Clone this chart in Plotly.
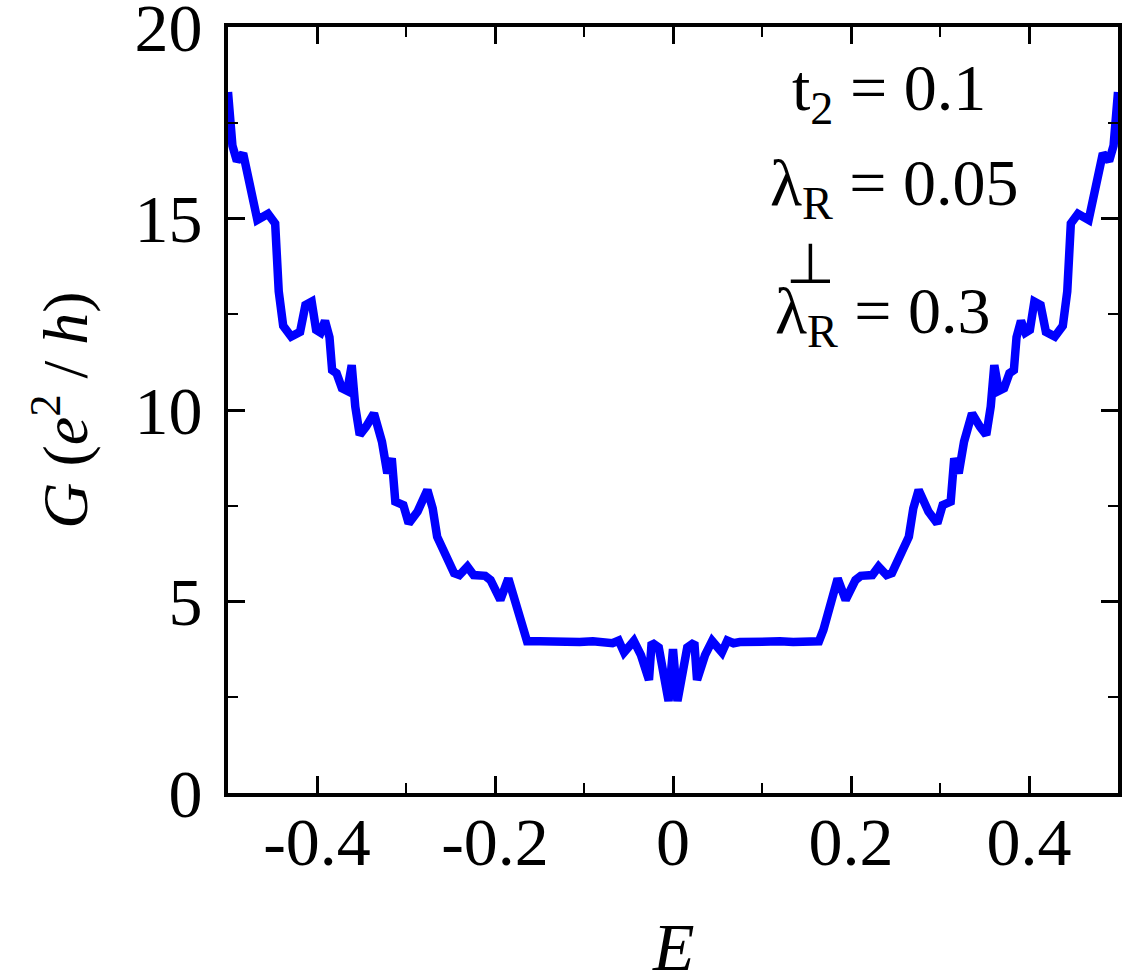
import plotly.graph_objects as go

# Energy values (left half, then right half) and conductance
E_vals = [
    -0.500, -0.495, -0.490, -0.483, -0.467, -0.455, -0.447, -0.443, -0.438, -0.429,
    -0.419, -0.413, -0.406, -0.401, -0.396, -0.391, -0.386, -0.383, -0.378, -0.372,
    -0.366, -0.361, -0.357, -0.352, -0.345, -0.336, -0.327, -0.321, -0.316, -0.312,
    -0.303, -0.297, -0.287, -0.276, -0.270, -0.265, -0.259, -0.254, -0.246, -0.240,
    -0.231, -0.224, -0.211, -0.205, -0.194, -0.185, -0.175, -0.169, -0.164, -0.150,
    -0.135, -0.120, -0.105, -0.090, -0.075, -0.068, -0.061, -0.055, -0.044, -0.036,
    -0.027, -0.024, -0.016, -0.005, 0.000,
    0.005, 0.016, 0.024, 0.027, 0.036, 0.044, 0.055, 0.061, 0.068, 0.075,
    0.090, 0.105, 0.120, 0.135, 0.150, 0.164, 0.169, 0.175, 0.185, 0.194,
    0.205, 0.211, 0.224, 0.231, 0.240, 0.246, 0.254, 0.259, 0.265, 0.270,
    0.276, 0.287, 0.297, 0.303, 0.312, 0.316, 0.321, 0.327, 0.336, 0.345,
    0.352, 0.357, 0.361, 0.366, 0.372, 0.378, 0.383, 0.386, 0.391, 0.396,
    0.401, 0.406, 0.413, 0.419, 0.429, 0.438, 0.443, 0.447, 0.455, 0.467,
    0.483, 0.490, 0.495, 0.500,
]
G_vals = [
    18.30, 16.90, 16.50, 16.70, 14.96, 15.12, 14.87, 13.10, 12.20, 11.92,
    12.04, 12.74, 12.83, 12.09, 12.02, 12.33, 11.90, 11.04, 10.96, 10.57,
    10.50, 11.17, 10.09, 9.35, 9.56, 9.91, 9.17, 8.35, 8.74, 7.61,
    7.52, 7.04, 7.35, 7.91, 7.43, 6.69, 6.39, 6.17, 5.74, 5.69,
    5.91, 5.69, 5.67, 5.56, 5.04, 5.60, 4.82, 4.26, 3.96, 3.96,
    3.94, 3.96, 3.94, 3.96, 3.94, 3.91, 3.98, 3.67, 3.97, 3.60,
    2.95, 3.93, 3.80, 2.40, 3.76,
    2.40, 3.80, 3.93, 2.95, 3.60, 3.97, 3.67, 3.98, 3.91, 3.94,
    3.96, 3.94, 3.96, 3.94, 3.96, 3.96, 4.26, 4.82, 5.60, 5.04,
    5.56, 5.67, 5.69, 5.91, 5.69, 5.74, 6.17, 6.39, 6.69, 7.43,
    7.91, 7.35, 7.04, 7.52, 7.61, 8.74, 8.35, 9.17, 9.91, 9.56,
    9.35, 10.09, 11.17, 10.50, 10.57, 10.96, 11.04, 11.90, 12.33, 12.02,
    12.09, 12.83, 12.74, 12.04, 11.92, 12.20, 13.10, 14.87, 15.12, 14.96,
    16.70, 16.50, 16.90, 18.30,
]

x_major = [-0.4, -0.2, 0.0, 0.2, 0.4]
x_major_text = ["-0.4", "-0.2", "0", "0.2", "0.4"]
x_minor = [-0.3, -0.1, 0.1, 0.3]
y_major = [0, 5, 10, 15, 20]
y_major_text = ["0", "5", "10", "15", "20"]
y_minor = [2.5, 7.5, 12.5, 17.5]

FONT = "Times New Roman"

fig = go.Figure()
fig.add_trace(go.Scatter(x=E_vals, y=G_vals, mode="lines",
                         line=dict(color="#0000ff", width=8.5),
                         showlegend=False, hoverinfo="skip"))

fig.update_layout(
    width=1128, height=973,
    margin=dict(l=228, r=10, t=27, b=180, autoexpand=False),
    paper_bgcolor="white", plot_bgcolor="white",
    font=dict(family=FONT, size=68, color="black"),
    showlegend=False,
)
fig.update_xaxes(
    range=[-0.5, 0.5], showgrid=False, zeroline=False, automargin=False,
    showline=True, linecolor="black", linewidth=4, mirror="ticks",
    ticks="inside", ticklen=17, tickwidth=3, tickcolor="black",
    tickvals=x_major, ticktext=x_major_text, ticklabelstandoff=-14,
    ticklabeloverflow="allow",
    tickfont=dict(family=FONT, size=68, color="black"),
    minor=dict(tickvals=x_minor, ticks="inside", ticklen=10, tickwidth=2, tickcolor="black"),
)
fig.update_yaxes(
    range=[0, 20.0001], showgrid=False, zeroline=False, automargin=False,
    showline=True, linecolor="black", linewidth=4, mirror="ticks",
    ticks="inside", ticklen=17, tickwidth=3, tickcolor="black",
    tickvals=y_major, ticktext=y_major_text, ticklabelstandoff=8,
    ticklabeloverflow="allow",
    tickfont=dict(family=FONT, size=68, color="black"),
    minor=dict(tickvals=y_minor, ticks="inside", ticklen=10, tickwidth=2, tickcolor="black"),
)

ann_font = dict(family=FONT, size=66, color="black")
fig.add_annotation(xref="paper", yref="paper", x=0.5, y=-0.201, xanchor="center", yanchor="middle",
                   text="<i>E</i>", showarrow=False, font=dict(family=FONT, size=68, color="black"))
fig.add_annotation(xref="paper", yref="paper", x=-0.189, y=0.5, xanchor="center", yanchor="middle",
                   text="<i>G</i> (<i>e</i><sup>2</sup> / <i>h</i>)", textangle=-90, showarrow=False,
                   font=dict(family=FONT, size=64, color="black"))
fig.add_annotation(xref="paper", yref="paper", x=0.631, y=0.915, xanchor="left", yanchor="middle",
                   text="t<sub>2</sub> = 0.1", showarrow=False, font=ann_font)
fig.add_annotation(xref="paper", yref="paper", x=0.607, y=0.790, xanchor="left", yanchor="middle",
                   text="λ<sub>R</sub> = 0.05", showarrow=False, font=ann_font)
fig.add_annotation(xref="paper", yref="paper", x=0.612, y=0.624, xanchor="left", yanchor="middle",
                   text="λ<sub>R</sub> = 0.3", showarrow=False, font=ann_font)
fig.add_annotation(xref="paper", yref="paper", x=0.654, y=0.690, xanchor="center", yanchor="middle",
                   text="⊥", showarrow=False, font=dict(family=FONT, size=56, color="black"))

fig.write_html("out.html")
